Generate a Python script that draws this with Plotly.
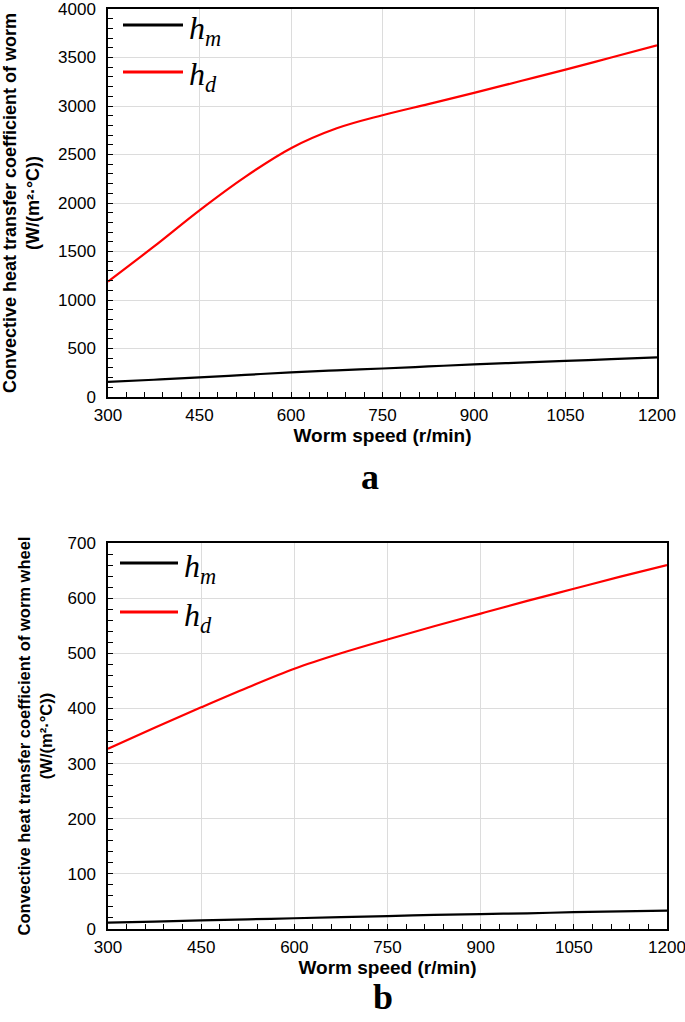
import plotly.graph_objects as go

speed = [300, 375, 450, 525, 600, 675, 750, 825, 900, 975, 1050, 1125, 1200]
worm_hm = [155, 178, 202, 228, 254, 275, 294, 315, 336, 354, 372, 390, 408]
worm_hd = [1190, 1550, 1925, 2270, 2565, 2770, 2905, 3020, 3135, 3255, 3375, 3500, 3625]
wheel_hm = [11.5, 13.5, 15.5, 17.5, 19.5, 21.5, 23.5, 25.5, 27, 28.5, 30.5, 32, 33.5]
wheel_hd = [327, 365, 402, 438, 472, 500, 525, 549, 572, 595, 617, 639, 660]

x_ticks = [300, 450, 600, 750, 900, 1050, 1200]
worm_yticks = [0, 500, 1000, 1500, 2000, 2500, 3000, 3500, 4000]
wheel_yticks = [0, 100, 200, 300, 400, 500, 600, 700]

W, H = 685, 1022

def px(x):
    return x / W

def py(y):
    return 1 - y / H

fig = go.Figure()

line_w = 2.2
fig.add_trace(go.Scatter(x=speed, y=worm_hm, mode="lines", line=dict(color="black", width=line_w, shape="spline"),
                         xaxis="x", yaxis="y", showlegend=False))
fig.add_trace(go.Scatter(x=speed, y=worm_hd, mode="lines", line=dict(color="#ff0000", width=line_w, shape="spline"),
                         xaxis="x", yaxis="y", showlegend=False))
fig.add_trace(go.Scatter(x=speed, y=wheel_hm, mode="lines", line=dict(color="black", width=line_w, shape="spline"),
                         xaxis="x2", yaxis="y2", showlegend=False))
fig.add_trace(go.Scatter(x=speed, y=wheel_hd, mode="lines", line=dict(color="#ff0000", width=line_w, shape="spline"),
                         xaxis="x2", yaxis="y2", showlegend=False))

tickfont = dict(family="Arial, Liberation Sans", size=17, color="black")
titlefont = dict(family="Arial, Liberation Sans", size=19, color="black", weight="bold")

def xaxis_cfg(domain):
    return dict(domain=domain, range=[300, 1200], tickvals=x_ticks, ticks="inside", ticklen=5, automargin=False,
                ticklabeloverflow="allow", ticklabelstandoff=2,
                tickcolor="black", tickwidth=1.2, showline=True, linecolor="black", linewidth=1.5, mirror=True,
                showgrid=True, gridcolor="#dcdcdc", gridwidth=1, zeroline=False, tickfont=tickfont,
                minor=dict(dtick=30, tick0=300, ticks="inside", ticklen=5, tickcolor="black", tickwidth=1.2, showgrid=False),
                title=dict(text="Worm speed (r/min)", font=titlefont, standoff=4))

def yaxis_cfg(domain, rng, vals, minor_dt, title, anchor, tsize, tstand):
    return dict(domain=domain, range=rng, tickvals=vals, ticks="inside", ticklen=5, anchor=anchor, automargin=False,
                ticklabeloverflow="allow", ticklabelstandoff=7,
                tickcolor="black", tickwidth=1.2, showline=True, linecolor="black", linewidth=1.5, mirror=True,
                showgrid=True, gridcolor="#dcdcdc", gridwidth=1, zeroline=False, tickfont=tickfont,
                minor=dict(dtick=minor_dt, tick0=0, ticks="inside", ticklen=5, tickcolor="black", tickwidth=1.2, showgrid=False),
                title=dict(text=title, standoff=tstand,
                           font=dict(family="Arial, Liberation Sans", size=tsize, color="black", weight="bold")))

fig.update_layout(
    width=W, height=H, margin=dict(l=0, r=0, t=0, b=0, autoexpand=False),
    paper_bgcolor="white", plot_bgcolor="white",
    xaxis=xaxis_cfg([px(108), px(657)]) | dict(anchor="y"),
    yaxis=yaxis_cfg([py(397), py(9)], [0, 4000], worm_yticks, 100,
                    "Convective heat transfer coefficient of worm<br>(W/(m²·°C))", "x", 18, 18),
    xaxis2=xaxis_cfg([px(108), px(667)]) | dict(anchor="y2"),
    yaxis2=yaxis_cfg([py(929), py(543)], [0, 700], wheel_yticks, 20,
                     "Convective heat transfer coefficient of worm wheel<br>(W/(m²·°C))", "x2", 16.5, 11),
)

legend_items = [
    (123, 183, 25, "black", "m"),
    (123, 183, 72, "#ff0000", "d"),
    (120, 178, 563, "black", "m"),
    (120, 178, 612, "#ff0000", "d"),
]
for x0, x1, yy, col, sub in legend_items:
    fig.add_shape(type="line", xref="paper", yref="paper", x0=px(x0), x1=px(x1),
                  y0=py(yy), y1=py(yy), line=dict(color=col, width=3))
    fig.add_annotation(xref="paper", yref="paper", x=px(x1 + 4), y=py(yy + 5),
                       xanchor="left", yanchor="middle", showarrow=False,
                       text=f"<i>h</i><sub><i>{sub}</i></sub>",
                       font=dict(family="Times New Roman, Liberation Serif", size=32, color="black"))

for txt, xx, yy in [("a", 370, 477), ("b", 383, 997)]:
    fig.add_annotation(xref="paper", yref="paper", x=px(xx), y=py(yy), showarrow=False,
                       xanchor="center", yanchor="middle", text=f"<b>{txt}</b>",
                       font=dict(family="Times New Roman, Liberation Serif", size=36, color="black"))

# remove the default 8px page margin so the figure fills the 685x1022 window exactly
fig.write_html("out.html", config={"displayModeBar": False},
               post_script="document.body.style.margin='0';")
